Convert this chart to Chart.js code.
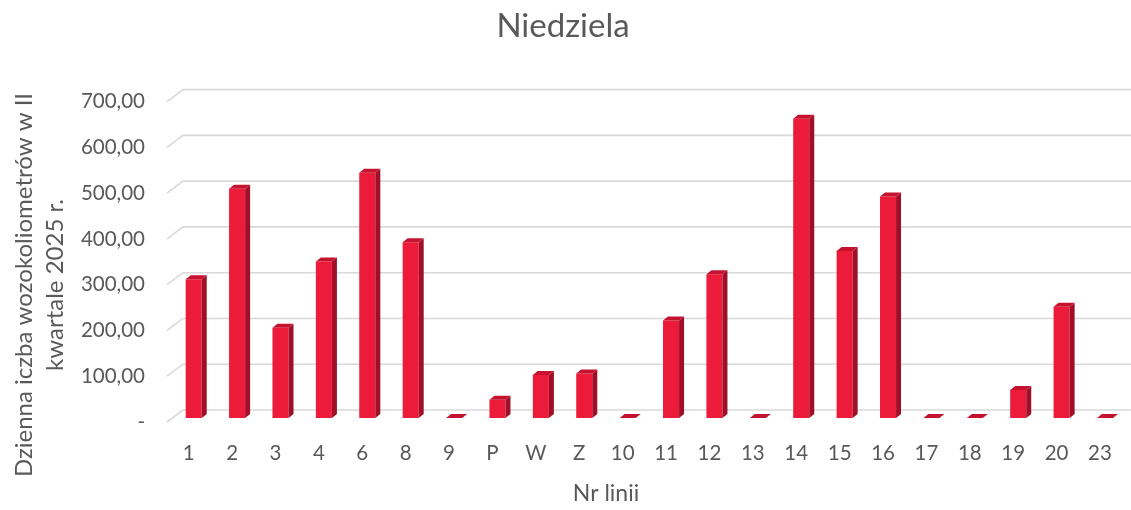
<!DOCTYPE html>
<html lang="pl">
<head>
  <meta charset="UTF-8" />
  <title>Niedziela</title>
  <script src="https://cdn.jsdelivr.net/npm/chart.js"></script>
  <style>
    html, body { margin: 0; padding: 0; background: #fff; }
    #wrap { width: 1131px; height: 510px; position: relative; }
  </style>
</head>
<body>
  <div id="wrap"><canvas id="chart"></canvas></div>

  <script>
    // data
    const categories = ['1', '2', '3', '4', '6', '8', '9', 'P', 'W', 'Z', '10', '11', '12', '13', '14', '15', '16', '17', '18', '19', '20', '23'];
    const values = [303, 501, 197, 342, 536, 384, 0, 40, 94, 97, 0, 213, 314, 0, 654, 365, 484, 0, 0, 61, 243, 0];
    const yMax = 700;
    const yStep = 100;
    const yTitle = ['Dzienna iczba wozokoliometrów w II', 'kwartale 2025 r.'];
    const xTitle = 'Nr linii';

    const textColor = '#595959';
    const fontFamily = 'Lato, "Open Sans", sans-serif';

    // fake 3D look: slanted gridlines + side and top faces on the bars
    const depth = { gx: 16, gy: 12, bx: 5, by: 4 };

    const bars3d = {
      id: 'bars3d',
      beforeDatasetsDraw(chart) {
        const { ctx, chartArea, scales: { y } } = chart;
        ctx.save();
        ctx.strokeStyle = '#d9d9d9';
        ctx.lineWidth = 1.6;
        y.ticks.forEach(t => {
          const yf = y.getPixelForValue(t.value);
          ctx.beginPath();
          ctx.moveTo(chartArea.left, yf);
          ctx.lineTo(chartArea.left + depth.gx, yf - depth.gy);
          ctx.lineTo(chart.width, yf - depth.gy);
          ctx.stroke();
        });
        ctx.restore();
        ctx.save();
        ctx.translate(depth.bx, -depth.by);
      },
      afterDatasetsDraw(chart) {
        const { ctx } = chart;
        const meta = chart.getDatasetMeta(0);
        meta.data.forEach(bar => {
          const { x, y, base, width } = bar.getProps(['x', 'y', 'base', 'width'], true);
          const x1 = x - width / 2, x2 = x + width / 2;
          // side
          ctx.fillStyle = '#a00f27';
          ctx.beginPath();
          ctx.moveTo(x2, y);
          ctx.lineTo(x2 + depth.bx, y - depth.by);
          ctx.lineTo(x2 + depth.bx, base - depth.by);
          ctx.lineTo(x2, base);
          ctx.closePath();
          ctx.fill();
          // top
          ctx.fillStyle = '#c5132f';
          ctx.beginPath();
          ctx.moveTo(x1, y);
          ctx.lineTo(x2, y);
          ctx.lineTo(x2 + depth.bx, y - depth.by);
          ctx.lineTo(x1 + depth.bx, y - depth.by);
          ctx.closePath();
          ctx.fill();
        });
        ctx.restore();
      }
    };

    // axis titles sit off-centre in the original, so place them by hand
    const axisTitles = {
      id: 'axisTitles',
      afterDraw(chart) {
        const { ctx } = chart;
        ctx.save();
        ctx.fillStyle = textColor;
        ctx.textAlign = 'center';
        ctx.textBaseline = 'alphabetic';
        ctx.font = '23px ' + fontFamily;
        ctx.fillText(xTitle, 606, 501);
        ctx.font = '24px ' + fontFamily;
        [32, 63].forEach((bx, i) => {
          ctx.save();
          ctx.translate(bx, 285);
          ctx.rotate(-Math.PI / 2);
          ctx.fillText(yTitle[i], 0, 0);
          ctx.restore();
        });
        ctx.restore();
      }
    };

    new Chart(document.getElementById('chart'), {
      type: 'bar',
      data: {
        labels: categories,
        datasets: [{
          data: values,
          backgroundColor: '#ed1b3a',
          borderWidth: 0,
          categoryPercentage: 1,
          barPercentage: 0.37
        }]
      },
      options: {
        responsive: true,
        maintainAspectRatio: false,
        animation: false,
        layout: { padding: { left: 0, right: 5, top: 0, bottom: 0 } },
        plugins: {
          legend: { display: false },
          tooltip: { enabled: false },
          title: {
            display: true,
            text: 'Niedziela',
            color: textColor,
            font: { family: fontFamily, size: 33, weight: 'normal' },
            padding: { top: 7, bottom: 55 }
          }
        },
        scales: {
          x: {
            grid: { display: false, drawTicks: false },
            border: { display: false },
            ticks: {
              color: textColor,
              font: { family: fontFamily, size: 20.5 },
              padding: 19,
              maxRotation: 0,
              autoSkip: false
            },
            afterFit(scale) { scale.height = 88; }
          },
          y: {
            min: 0,
            max: yMax,
            grid: { display: false, drawTicks: false },
            border: { display: false },
            ticks: {
              stepSize: yStep,
              color: textColor,
              font: { family: fontFamily, size: 20.5 },
              padding: 22,
              callback: v => v === 0 ? '-' : v.toFixed(2).replace('.', ',')
            },
            afterFit(scale) { scale.width = 167; }
          }
        }
      },
      plugins: [bars3d, axisTitles]
    });
  </script>
</body>
</html>
